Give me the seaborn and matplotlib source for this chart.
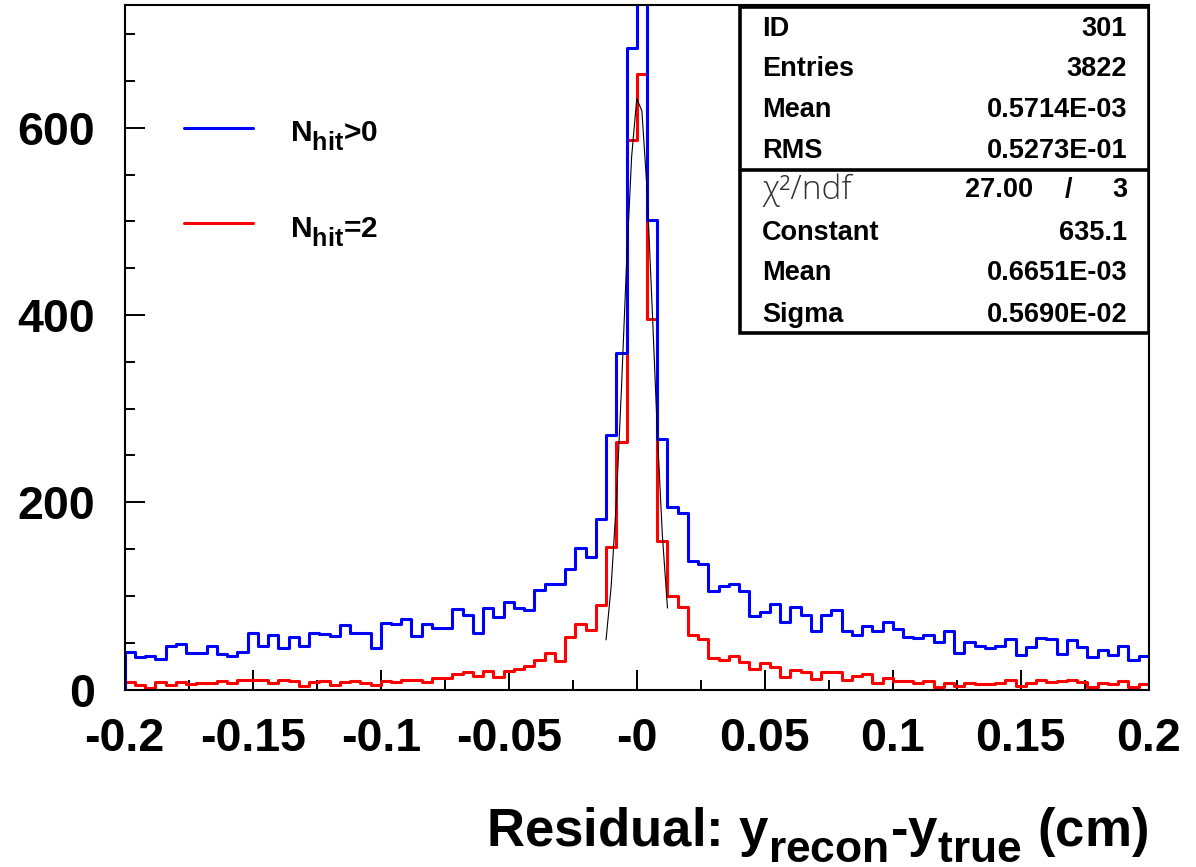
import numpy as np
import pandas as pd
import matplotlib
matplotlib.use("Agg")
import matplotlib.pyplot as plt
import matplotlib._mathtext as mathtext_internals
from matplotlib.patches import Rectangle
from matplotlib.ticker import MultipleLocator
import seaborn as sns

# histogram range (100 bins)
x_lo, x_hi, n_bins = -0.2, 0.2, 100

# N_hit > 0, counts per bin (bin 50 runs off the top)
counts_all = [40, 34.5, 35.6, 32.4, 46, 48.8, 38.9, 38.9, 46.7, 37.8,
              35.6, 40, 59.9, 46, 57.8, 44.2, 55.6, 46, 59.9, 59,
              57, 68.8, 60, 60, 44.7, 70.7, 70, 75.7, 57.5, 70,
              65.4, 65.4, 86.3, 79.2, 60, 87, 77, 93.5, 86.7, 84.6,
              106, 113, 113, 129, 151, 141, 182, 272, 359, 685,
              780, 501, 268, 195, 189, 137, 134, 105, 111, 113,
              105, 78, 83, 91, 72, 88, 80, 63, 80, 85,
              62, 58, 68, 63, 72, 65, 56, 55, 58, 51,
              62, 39, 51, 47, 44, 47, 54, 37, 45, 55,
              54, 38, 53, 45, 35, 42, 37, 47, 31, 36]

# N_hit = 2
counts_two = [8, 5, 2, 8, 5, 8, 6, 7, 7, 9,
              7, 10, 10, 10, 7, 10, 9, 4, 8, 9,
              5, 8, 9, 7.5, 4.5, 9, 7.7, 10, 10, 8.4,
              12.7, 12.7, 16.6, 18.3, 14.8, 19.4, 13.7, 20, 22, 25.5,
              31, 39, 30, 56, 70, 64, 90, 152, 264, 587,
              657, 396, 159, 100, 88, 58, 54, 34, 31, 36,
              29, 21.5, 28, 24, 13, 21, 19, 11, 19, 19,
              10, 14, 17, 7, 12, 9, 9, 7, 9, 3,
              7, 4, 7, 5.5, 5.5, 7, 10.5, 4, 7, 10.5,
              8, 9, 10.5, 8, 3, 7, 6, 9, 3, 6]

# gaussian fit curve as drawn
fit_x = [-0.012, -0.010, -0.008, -0.006, -0.004, -0.002, 0.0,
         0.002, 0.004, 0.006, 0.008, 0.010, 0.012]
fit_y = [53, 110, 199, 320, 454, 569, 631, 618, 535, 409, 277, 165, 87]

x_ticks = [-0.2, -0.15, -0.1, -0.05, 0.0, 0.05, 0.1, 0.15, 0.2]
x_tick_labels = ["-0.2", "-0.15", "-0.1", "-0.05", "-0", "0.05", "0.1", "0.15", "0.2"]
y_ticks = [0, 200, 400, 600]

stats_labels = ["ID", "Entries", "Mean", "RMS"]
stats_values = ["301", "3822", "0.5714E-03", "0.5273E-01"]
chi2_value, ndf_value = "27.00", "3"
fit_labels = ["Constant", "Mean", "Sigma"]
fit_values = ["635.1", "0.6651E-03", "0.5690E-02"]

sns.set_theme(style="ticks")
plt.rcParams["font.family"] = ["Liberation Sans", "DejaVu Sans"]
plt.rcParams["font.weight"] = "bold"
plt.rcParams["text.color"] = "black"
plt.rcParams["xtick.color"] = "black"
plt.rcParams["ytick.color"] = "black"
plt.rcParams["mathtext.fontset"] = "custom"
for key in ["rm", "bf", "it", "sf"]:
    plt.rcParams["mathtext." + key] = "Liberation Sans:bold"
# ROOT's TLatex subscripts are bigger and sit lower than matplotlib's defaults
mathtext_internals.SHRINK_FACTOR = 0.84
mathtext_internals.FontConstantsBase.sub1 = 0.6

fig = plt.figure(figsize=(11.96, 8.67), dpi=100)
ax = fig.add_axes([0.1043, 0.2047, 0.8562, 0.7895])

edges = np.linspace(x_lo, x_hi, n_bins + 1)
centers = (edges[:-1] + edges[1:]) / 2

lw = 2.2
# red first so the blue outline sits on top, like the original
for counts, col in [(counts_two, "#ff0000"), (counts_all, "#0000ff")]:
    df = pd.DataFrame({"x": centers, "n": counts})
    sns.histplot(data=df, x="x", weights="n", bins=n_bins, binrange=(x_lo, x_hi),
                 element="step", fill=False, color=col, linewidth=lw, ax=ax)
    ax.vlines([x_lo, x_hi], 0, [counts[0], counts[-1]], color=col, linewidth=lw)

sns.lineplot(x=fit_x, y=fit_y, color="black", linewidth=0.8, estimator=None, ax=ax)

ax.set_xlim(x_lo, x_hi)
ax.set_ylim(0, 731)
ax.set_xlabel("")
ax.set_ylabel("")
ax.set_xticks(x_ticks, x_tick_labels)
ax.set_yticks(y_ticks)
ax.xaxis.set_minor_locator(MultipleLocator(0.025))
ax.yaxis.set_minor_locator(MultipleLocator(50))
ax.tick_params(which="both", direction="in", top=False, right=False,
               color="black", labelcolor="black")
ax.tick_params(which="major", length=14.4, width=1.4, labelsize=33.5)
ax.tick_params(axis="x", which="major", pad=20)
ax.tick_params(axis="y", which="major", pad=21.5)
ax.tick_params(which="minor", length=7.2, width=1.4)
for lab in ax.get_xticklabels() + ax.get_yticklabels():
    lab.set_fontweight("bold")
for sp in ax.spines.values():
    sp.set_linewidth(1.5)
    sp.set_color("black")

# legend, drawn by hand in ROOT style
for y_line, y_text, col, txt in [(0.820, 0.801, "#0000ff", r"N$_{\mathrm{hit}}$>0"),
                                 (0.6815, 0.661, "#ff0000", r"N$_{\mathrm{hit}}$=2")]:
    ax.plot([0.058, 0.125], [y_line, y_line], transform=ax.transAxes, color=col, linewidth=lw)
    ax.text(0.1614, y_text, txt, transform=ax.transAxes, fontsize=21.5,
            fontweight="bold", va="baseline", ha="left")

# stats box
box = Rectangle((0.601, 0.521), 0.399, 0.476, transform=ax.transAxes,
                facecolor="white", edgecolor="black", linewidth=2.6, zorder=5)
ax.add_patch(box)
ax.plot([0.601, 1.0], [0.759, 0.759], transform=ax.transAxes, color="black",
        linewidth=2.6, zorder=6)

row_y = [(689.5 - y) / 684.5 for y in [29, 69, 110, 151, 190, 233, 273, 315]]
left_x, right_x = 0.6224, 0.9788
for i, (lab, val) in enumerate(zip(stats_labels, stats_values)):
    ax.text(left_x, row_y[i], lab, transform=ax.transAxes, fontsize=19.5,
            fontweight="bold", va="center", ha="left", zorder=7)
    ax.text(right_x, row_y[i], val, transform=ax.transAxes, fontsize=19.5,
            fontweight="bold", va="center", ha="right", zorder=7)

ax.text(left_x, row_y[4], "\u03c7\u00b2/ndf", transform=ax.transAxes, fontsize=24,
        fontweight="light", family=["Open Sans", "DejaVu Sans"], color="#333333",
        va="center", ha="left", zorder=7)
ax.text(0.8869, row_y[4], chi2_value, transform=ax.transAxes, fontsize=19.5,
        fontweight="bold", va="center", ha="right", zorder=7)
ax.text(0.9212, row_y[4], "/", transform=ax.transAxes, fontsize=19.5,
        fontweight="bold", va="center", ha="center", zorder=7)
ax.text(right_x, row_y[4], ndf_value, transform=ax.transAxes, fontsize=19.5,
        fontweight="bold", va="center", ha="right", zorder=7)
for i, (lab, val) in enumerate(zip(fit_labels, fit_values)):
    ax.text(left_x, row_y[5 + i], lab, transform=ax.transAxes, fontsize=19.5,
            fontweight="bold", va="center", ha="left", zorder=7)
    ax.text(right_x, row_y[5 + i], val, transform=ax.transAxes, fontsize=19.5,
            fontweight="bold", va="center", ha="right", zorder=7)

# axis title, bottom right
fig.text(1148 / 1196, 1 - 845 / 867,
         r"Residual: y$_{\mathrm{recon}}$-y$_{\mathrm{true}}$ (cm)",
         fontsize=38, fontweight="bold", ha="right", va="baseline")

fig.savefig("out.png", dpi=100)
